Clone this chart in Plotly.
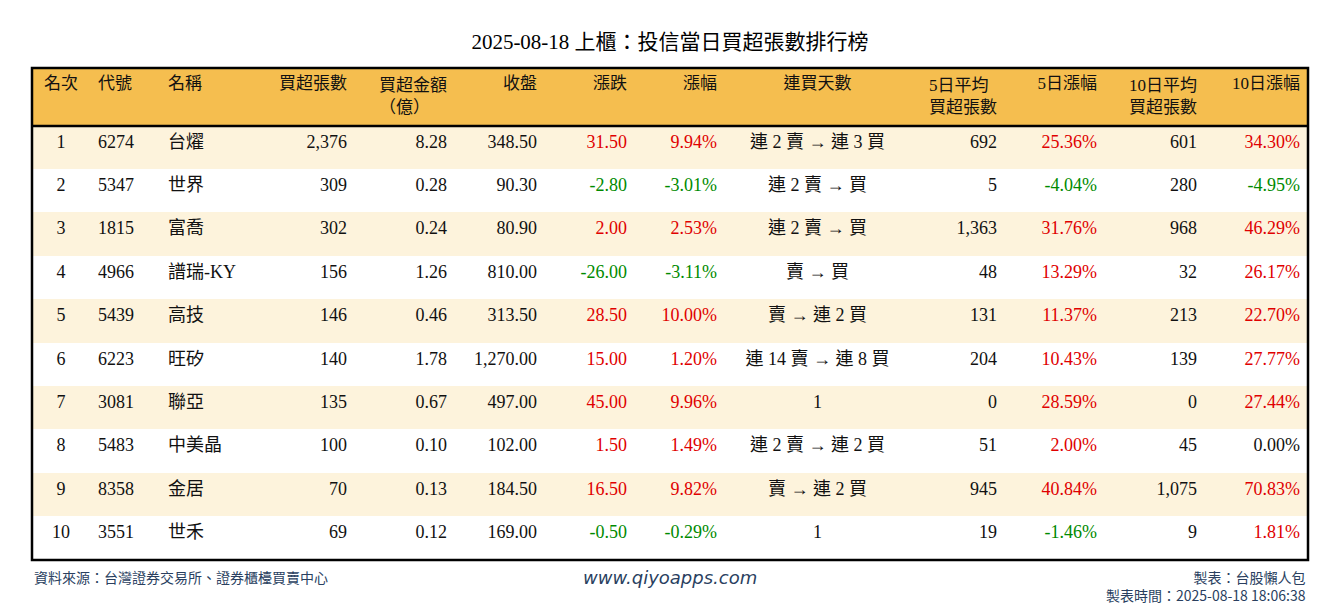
import plotly.graph_objects as go

rank = [str(i) for i in range(1, 11)]
code = ['6274', '5347', '1815', '4966', '5439', '6223', '3081', '5483', '8358', '3551']
name = ['台燿', '世界', '富喬', '譜瑞-KY', '高技', '旺矽', '聯亞', '中美晶', '金居', '世禾']
buy_lots = ['2,376', '309', '302', '156', '146', '140', '135', '100', '70', '69']
buy_amt = ['8.28', '0.28', '0.24', '1.26', '0.46', '1.78', '0.67', '0.10', '0.13', '0.12']
close = ['348.50', '90.30', '80.90', '810.00', '313.50', '1,270.00', '497.00', '102.00', '184.50', '169.00']
chg = [31.50, -2.80, 2.00, -26.00, 28.50, 15.00, 45.00, 1.50, 16.50, -0.50]
chg_pct = [9.94, -3.01, 2.53, -3.11, 10.00, 1.20, 9.96, 1.49, 9.82, -0.29]
streak = ['連 2 賣 → 連 3 買', '連 2 賣 → 買', '連 2 賣 → 買', '賣 → 買', '賣 → 連 2 買',
          '連 14 賣 → 連 8 買', '1', '連 2 賣 → 連 2 買', '賣 → 連 2 買', '1']
avg5 = ['692', '5', '1,363', '48', '131', '204', '0', '51', '945', '19']
pct5 = [25.36, -4.04, 31.76, 13.29, 11.37, 10.43, 28.59, 2.00, 40.84, -1.46]
avg10 = ['601', '280', '968', '32', '213', '139', '0', '45', '1,075', '9']
pct10 = [34.30, -4.95, 46.29, 26.17, 22.70, 27.77, 27.44, 0.00, 70.83, 1.81]

headers = ['名次', '代號', '名稱', '買超張數', '買超金額<br>（億）', '收盤', '漲跌', '漲幅',
           '連買天數', '5日平均<br>買超張數', '5日漲幅', '10日平均<br>買超張數', '10日漲幅']

RED, GREEN, BLACK = '#e00000', '#008a00', '#111111'


def col(v):
    return RED if v > 0 else (GREEN if v < 0 else BLACK)


values = [rank, code, name, buy_lots, buy_amt, close,
          [f'{v:.2f}' for v in chg], [f'{v:.2f}%' for v in chg_pct], streak,
          avg5, [f'{v:.2f}%' for v in pct5], avg10, [f'{v:.2f}%' for v in pct10]]

plain = [BLACK] * 10
font_colors = [plain] * 6 + [[col(v) for v in chg], [col(v) for v in chg_pct], plain,
                             plain, [col(v) for v in pct5], plain, [col(v) for v in pct10]]
row_fill = ['#fdf3dc' if i % 2 == 0 else '#ffffff' for i in range(10)]
aligns = ['center', 'left', 'left', 'right', 'right', 'right', 'right', 'right', 'center',
          'right', 'right', 'right', 'right']
widths = [58, 70, 95, 100, 100, 90, 90, 90, 185, 95, 100, 100, 103]

font = 'Liberation Serif, Noto Sans CJK TC'
H = 600

fig = go.Figure(go.Table(
    columnwidth=widths,
    header=dict(values=headers, align=['center', 'left', 'left'] + ['right'] * 5 + ['center'] + ['right'] * 4,
                fill_color='#f5be4f', line_color='#f5be4f', height=58,
                font=dict(family=font, size=17, color=BLACK)),
    cells=dict(values=values, align=aligns, fill_color=[row_fill] * 13, line_color=[row_fill] * 13,
               height=43.4, font=dict(family=font, size=18, color=font_colors)),
))

fig.update_layout(
    width=1324, height=H, margin=dict(l=24, r=24, t=60, b=48),
    paper_bgcolor='white',
    title=dict(text='2025-08-18 上櫃：投信當日買超張數排行榜', x=0.5, y=1 - 34 / H, yref='container',
               xanchor='center', yanchor='middle',
               font=dict(family=font, size=21, color='black')),
    shapes=[
        dict(type='rect', xref='paper', yref='paper', x0=0, x1=1, y0=0, y1=1,
             line=dict(color='black', width=2.5)),
        dict(type='line', xref='paper', yref='paper', x0=0, x1=1, y0=1 - 58 / 492, y1=1 - 58 / 492,
             line=dict(color='black', width=2.5)),
    ],
    annotations=[
        dict(text='資料來源：台灣證券交易所、證券櫃檯買賣中心', xref='paper', yref='paper', x=0, y=-0.01,
             xanchor='left', yanchor='top', showarrow=False, font=dict(family='Noto Sans CJK TC', size=14)),
        dict(text='<i>www.qiyoapps.com</i>', xref='paper', yref='paper', x=0.5, y=-0.01,
             xanchor='center', yanchor='top', showarrow=False, font=dict(family='DejaVu Sans', size=18)),
        dict(text='製表：台股懶人包<br>製表時間：2025-08-18 18:06:38', xref='paper', yref='paper', x=1, y=-0.01,
             xanchor='right', yanchor='top', align='right', showarrow=False,
             font=dict(family='Noto Sans CJK TC', size=14)),
    ],
)

fig.write_html('out.html')
